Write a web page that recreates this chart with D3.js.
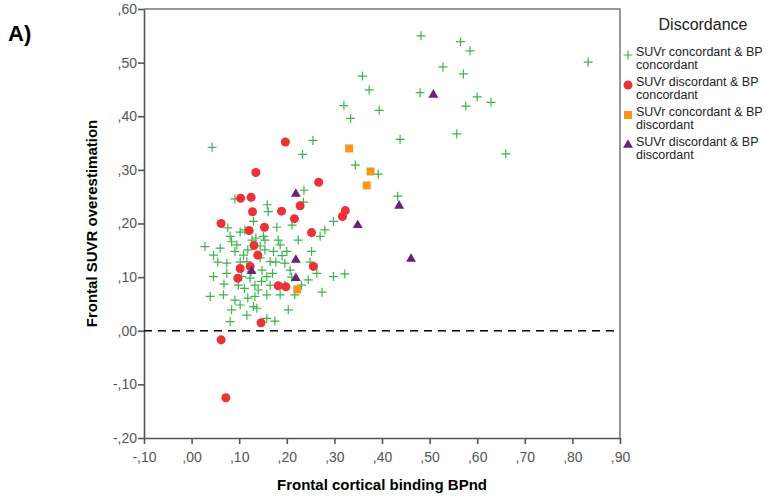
<!DOCTYPE html>
<html>
<head>
<meta charset="utf-8">
<script src="https://cdn.jsdelivr.net/npm/d3@7"></script>
<style>
  body { margin: 0; background: #fff; }
  svg text { font-family: Arial, "Liberation Sans", sans-serif; }
</style>
</head>
<body>
<div id="chart"></div>
<script>
// --- --- Data --- ---

var xTicks = [-0.1, 0, 0.1, 0.2, 0.3, 0.4, 0.5, 0.6, 0.7, 0.8, 0.9];
var yTicks = [-0.2, -0.1, 0, 0.1, 0.2, 0.3, 0.4, 0.5, 0.6];

var categories = [
  "SUVr concordant & BP concordant",
  "SUVr discordant & BP concordant",
  "SUVr concordant & BP discordant",
  "SUVr discordant & BP discordant"
];

// [BPnd, SUVR overestimation]
var concConc = [
  [0.482, 0.550], [0.565, 0.539], [0.585, 0.522], [0.833, 0.501], [0.528, 0.492],
  [0.571, 0.479], [0.359, 0.475], [0.373, 0.449], [0.480, 0.444], [0.600, 0.436],
  [0.576, 0.419], [0.629, 0.426], [0.320, 0.420], [0.394, 0.411], [0.334, 0.396],
  [0.557, 0.367], [0.438, 0.357], [0.660, 0.330], [0.344, 0.309], [0.392, 0.292],
  [0.433, 0.251], [0.255, 0.355], [0.233, 0.329], [0.043, 0.342], [0.236, 0.262],
  [0.235, 0.240], [0.091, 0.246], [0.159, 0.235], [0.161, 0.222], [0.298, 0.204],
  [0.280, 0.188], [0.270, 0.176], [0.179, 0.193], [0.130, 0.204], [0.112, 0.188],
  [0.081, 0.176], [0.060, 0.154], [0.028, 0.157], [0.046, 0.141], [0.084, 0.166],
  [0.154, 0.169], [0.252, 0.148], [0.200, 0.148], [0.224, 0.169], [0.298, 0.101],
  [0.322, 0.106], [0.046, 0.101], [0.067, 0.067], [0.039, 0.064], [0.074, 0.126],
  [0.074, 0.107], [0.098, 0.085], [0.111, 0.079], [0.091, 0.057], [0.133, 0.064],
  [0.084, 0.039], [0.116, 0.029], [0.081, 0.017], [0.130, 0.045], [0.123, 0.098],
  [0.133, 0.085], [0.105, 0.101], [0.116, 0.129], [0.109, 0.141], [0.091, 0.148],
  [0.140, 0.076], [0.151, 0.176], [0.182, 0.169], [0.154, 0.151], [0.172, 0.148],
  [0.165, 0.129], [0.196, 0.126], [0.263, 0.107], [0.245, 0.095], [0.231, 0.085],
  [0.158, 0.101], [0.147, 0.092], [0.165, 0.085], [0.158, 0.067], [0.137, 0.042],
  [0.203, 0.039], [0.158, 0.023], [0.175, 0.018], [0.102, 0.184], [0.135, 0.173],
  [0.118, 0.151], [0.144, 0.136], [0.177, 0.128], [0.207, 0.113], [0.186, 0.067],
  [0.118, 0.061], [0.102, 0.048], [0.068, 0.087], [0.055, 0.128], [0.148, 0.113],
  [0.217, 0.067], [0.196, 0.085], [0.249, 0.128], [0.274, 0.072], [0.102, 0.128],
  [0.127, 0.169], [0.211, 0.197], [0.186, 0.160], [0.076, 0.192], [0.144, 0.158],
  [0.170, 0.107], [0.190, 0.140], [0.095, 0.160], [0.125, 0.110], [0.210, 0.100]
];

var discConc = [
  [0.197, 0.352], [0.135, 0.295], [0.267, 0.277], [0.103, 0.247], [0.125, 0.249],
  [0.128, 0.222], [0.189, 0.223], [0.228, 0.233], [0.323, 0.224], [0.317, 0.213],
  [0.062, 0.200], [0.121, 0.187], [0.153, 0.193], [0.216, 0.209], [0.252, 0.183],
  [0.131, 0.159], [0.139, 0.141], [0.102, 0.116], [0.123, 0.120], [0.097, 0.098],
  [0.256, 0.120], [0.182, 0.084], [0.198, 0.082], [0.146, 0.015], [0.062, -0.017],
  [0.072, -0.125]
];

var concDisc = [
  [0.331, 0.340], [0.376, 0.297], [0.368, 0.271], [0.222, 0.077]
];

var discDisc = [
  [0.219, 0.255], [0.126, 0.111], [0.219, 0.132], [0.219, 0.098], [0.349, 0.197],
  [0.436, 0.233], [0.461, 0.134], [0.508, 0.440]
];

// --- --- Layout --- ---
var width = 772;
var height = 499;
var margin = ({top: 9, right: 152, bottom: 61, left: 144});

var green = "#3bb54a";
var red = "#ec3237";
var orange = "#f7961e";
var purple = "#6b2178";

var x = d3.scaleLinear().domain([-0.1, 0.9]).range([margin.left, width - margin.right]);
var y = d3.scaleLinear().domain([-0.2, 0.6]).range([height - margin.bottom, margin.top]);

// ,60 / -,10 / ,00 style labels
function commaFormat(d){
  var s = Math.abs(d).toFixed(2).slice(1).replace(".", ",");
  return (d < -1e-9 ? "-" : "") + s;
}

var svg = d3.select("#chart").append("svg")
  .attr("width", width).attr("height", height)
  .attr("viewBox", [0, 0, width, height]);

// frame (top and right)
svg.append("path")
  .attr("d", "M" + x(-0.1) + "," + y(0.6) + "H" + x(0.9) + "V" + y(-0.2))
  .attr("fill", "none").attr("stroke", "#777").attr("stroke-width", 1.5);

var xAxis = svg.append("g")
  .attr("transform", "translate(0," + y(-0.2) + ")")
  .call(d3.axisBottom(x).tickValues(xTicks).tickFormat(commaFormat).tickSize(6).tickSizeOuter(0));
var yAxis = svg.append("g")
  .attr("transform", "translate(" + x(-0.1) + ",0)")
  .call(d3.axisLeft(y).tickValues(yTicks).tickFormat(commaFormat).tickSize(6).tickSizeOuter(0));

[xAxis, yAxis].forEach(function(g){
  g.select(".domain").attr("stroke", "#555").attr("stroke-width", 1.6);
  g.selectAll(".tick line").attr("stroke", "#555").attr("stroke-width", 1.6);
  g.selectAll(".tick text").attr("fill", "#555").style("font-size", "14px");
});
xAxis.selectAll(".tick text").attr("dy", "1.05em");
yAxis.selectAll(".tick text").attr("x", -7);

// zero reference line
svg.append("line")
  .attr("x1", x(-0.1)).attr("x2", x(0.9))
  .attr("y1", y(0)).attr("y2", y(0))
  .attr("stroke", "#000").attr("stroke-width", 1.3)
  .attr("stroke-dasharray", "8,6");

// --- markers ---
var crossPath = "M-4.5,0H4.5M0,-4.5V4.5";

svg.append("g").selectAll("path").data(concConc).join("path")
  .attr("transform", d => "translate(" + x(d[0]) + "," + y(d[1]) + ")")
  .attr("d", crossPath)
  .attr("stroke", green).attr("stroke-width", 1.2).attr("fill", "none");

svg.append("g").selectAll("path").data(discConc).join("path")
  .attr("transform", d => "translate(" + x(d[0]) + "," + y(d[1]) + ")")
  .attr("d", d3.symbol(d3.symbolCircle, 64))
  .attr("fill", red);

svg.append("g").selectAll("path").data(concDisc).join("path")
  .attr("transform", d => "translate(" + x(d[0]) + "," + y(d[1]) + ")")
  .attr("d", d3.symbol(d3.symbolSquare, 64))
  .attr("fill", orange);

svg.append("g").selectAll("path").data(discDisc).join("path")
  .attr("transform", d => "translate(" + x(d[0]) + "," + y(d[1]) + ")")
  .attr("d", d3.symbol(d3.symbolTriangle, 42))
  .attr("fill", purple);

// --- titles ---
svg.append("text")
  .attr("x", (x(-0.1) + x(0.9)) / 2).attr("y", 490)
  .attr("text-anchor", "middle")
  .style("font-size", "15px").style("font-weight", "bold")
  .text("Frontal cortical binding BPnd");

svg.append("text")
  .attr("transform", "translate(97," + (y(-0.2) + y(0.6)) / 2 + ") rotate(-90)")
  .attr("text-anchor", "middle")
  .style("font-size", "15px").style("font-weight", "bold")
  .text("Frontal SUVR overestimation");

svg.append("text")
  .attr("x", 8).attr("y", 41)
  .style("font-size", "22px").style("font-weight", "bold")
  .text("A)");

// --- legend ---
var legend = svg.append("g");
legend.append("text")
  .attr("x", 703).attr("y", 30)
  .attr("text-anchor", "middle")
  .style("font-size", "16px").attr("fill", "#222")
  .text("Discordance");

var legendMarks = [
  {color: green, kind: "cross"},
  {color: red, kind: d3.symbolCircle, size: 64},
  {color: orange, kind: d3.symbolSquare, size: 64},
  {color: purple, kind: d3.symbolTriangle, size: 42}
];

categories.forEach(function(name, i){
  var top = 56 + i * 30;
  var m = legendMarks[i];
  var mark = legend.append("path")
    .attr("transform", "translate(628," + (top - 1) + ")");
  if (m.kind === "cross"){
    mark.attr("d", crossPath).attr("stroke", m.color).attr("stroke-width", 1.2).attr("fill", "none");
  } else {
    mark.attr("d", d3.symbol(m.kind, m.size)).attr("fill", m.color);
  }
  var words = name.split(" ");
  var t = legend.append("text")
    .attr("x", 636).attr("y", top)
    .style("font-size", "12.5px").attr("fill", "#222");
  t.append("tspan").attr("x", 636).text(words.slice(0, 4).join(" "));
  t.append("tspan").attr("x", 636).attr("dy", 13).text(words.slice(4).join(" "));
});
</script>
</body>
</html>
